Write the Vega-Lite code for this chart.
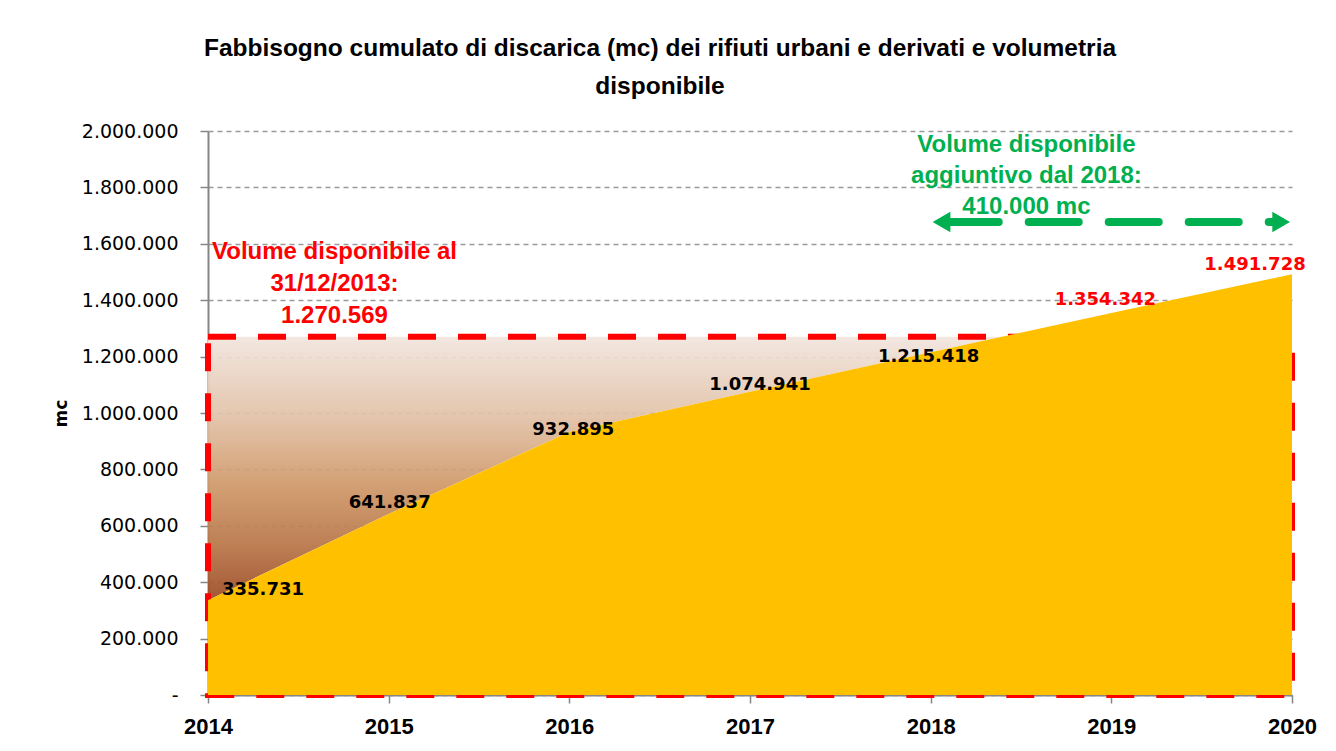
{
  "$schema": "https://vega.github.io/schema/vega-lite/v6.json",
  "width": 1084,
  "height": 564,
  "autosize": {"type": "none"},
  "padding": {"left": 208, "top": 131, "right": 44, "bottom": 56},
  "background": "white",
  "config": {
    "locale": {"number": {"decimal": ",", "thousands": ".", "grouping": [3], "currency": ["€", ""]}},
    "view": {"stroke": null}
  },
  "title": {
    "text": ["Fabbisogno cumulato di discarica (mc) dei rifiuti urbani e derivati e volumetria", "disponibile"],
    "font": "Liberation Sans",
    "fontSize": 24.5,
    "fontWeight": "bold",
    "color": "#000000",
    "lineHeight": 38,
    "anchor": "middle",
    "frame": "group",
    "dx": -90,
    "offset": 23
  },
  "datasets": {
    "series": [
      {"year": 2014, "v": 335731},
      {"year": 2015, "v": 641837},
      {"year": 2016, "v": 932895},
      {"year": 2017, "v": 1074941},
      {"year": 2018, "v": 1215418},
      {"year": 2019, "v": 1354342},
      {"year": 2020, "v": 1491728}
    ],
    "brown": [
      {"year": 2014, "v": 335731, "v2": 1270569},
      {"year": 2015, "v": 641837, "v2": 1270569},
      {"year": 2016, "v": 932895, "v2": 1270569},
      {"year": 2017, "v": 1074941, "v2": 1270569},
      {"year": 2018, "v": 1215418, "v2": 1270569},
      {"year": 2018.397, "v": 1270569, "v2": 1270569}
    ],
    "box": [{"year": 2014, "year2": 2020, "v": 0, "v2": 1270569}],
    "arrow": [{"year": 2018.1, "v": 1677000}, {"year": 2019.94, "v": 1677000}],
    "headL": [{"year": 2018.06, "v": 1677000}],
    "headR": [{"year": 2019.94, "v": 1677000}],
    "noteGreen": [{"year": 2018.53, "v": 1952000, "text": "Volume disponibile\naggiuntivo dal 2018:\n410.000  mc"}],
    "noteRed": [{"year": 2014.7, "v": 1571000, "text": "Volume disponibile al\n31/12/2013:\n1.270.569"}]
  },
  "encoding": {
    "x": {
      "field": "year",
      "type": "quantitative",
      "scale": {"domain": [2014, 2020], "nice": false, "zero": false},
      "axis": {
        "title": null,
        "values": [2014, 2015, 2016, 2017, 2018, 2019, 2020],
        "format": "d",
        "grid": false,
        "domainColor": "#868686",
        "domainWidth": 2,
        "tickColor": "#868686",
        "tickWidth": 1.5,
        "tickSize": 8,
        "labelFont": "Liberation Sans",
        "labelFontSize": 22,
        "labelFontWeight": "bold",
        "labelColor": "#000000",
        "labelPadding": 13,
        "labelFlush": false,
        "labelOverlap": false
      }
    },
    "y": {
      "field": "v",
      "type": "quantitative",
      "scale": {"domain": [0, 2000000], "nice": false},
      "axis": {
        "title": "mc",
        "titleFont": "DejaVu Sans",
        "titleFontSize": 17,
        "titleFontWeight": "bold",
        "titleColor": "#000000",
        "titlePadding": 11,
        "values": [0, 200000, 400000, 600000, 800000, 1000000, 1200000, 1400000, 1600000, 1800000, 2000000],
        "labelExpr": "datum.value == 0 ? '-' : format(datum.value, ',')",
        "labelFont": "DejaVu Sans",
        "labelFontSize": 19,
        "labelColor": "#000000",
        "labelPadding": 22,
        "domainColor": "#868686",
        "domainWidth": 2,
        "tickColor": "#868686",
        "tickWidth": 1.5,
        "tickSize": 8,
        "grid": true,
        "gridColor": "#9a9a9a",
        "gridWidth": 1.5,
        "gridDash": [5, 4]
      }
    }
  },
  "layer": [
    {
      "data": {"name": "brown"},
      "mark": {
        "type": "area",
        "fill": {
          "gradient": "linear", "x1": 0, "y1": 0, "x2": 0, "y2": 1,
          "stops": [
            {"offset": 0, "color": "#F1E5DE"},
            {"offset": 0.3, "color": "#E2C2A8"},
            {"offset": 0.55, "color": "#D09A6B"},
            {"offset": 0.8, "color": "#B87446"},
            {"offset": 1, "color": "#9B4A25"}
          ]
        },
        "fillOpacity": 0.93
      },
      "encoding": {"y2": {"field": "v2"}}
    },
    {
      "data": {"name": "box"},
      "mark": {"type": "rect", "fill": "white", "fillOpacity": 0, "stroke": "#FF0000", "strokeWidth": 6, "strokeDash": [28, 22]},
      "encoding": {"x2": {"field": "year2"}, "y2": {"field": "v2"}}
    },
    {
      "data": {"name": "series"},
      "mark": {"type": "area", "fill": "#FFC000", "interpolate": "linear"}
    },
    {
      "data": {"name": "series"},
      "transform": [{"filter": "datum.year == 2014"}],
      "mark": {"type": "text", "font": "DejaVu Sans", "fontSize": 18, "fontWeight": "bold", "color": "#000000", "align": "left", "baseline": "middle", "dx": 14, "dy": -10},
      "encoding": {"text": {"field": "v", "format": ","}}
    },
    {
      "data": {"name": "series"},
      "transform": [{"filter": "datum.year == 2015"}],
      "mark": {"type": "text", "font": "DejaVu Sans", "fontSize": 18, "fontWeight": "bold", "color": "#000000", "align": "center", "baseline": "middle", "dx": 1, "dy": -11},
      "encoding": {"text": {"field": "v", "format": ","}}
    },
    {
      "data": {"name": "series"},
      "transform": [{"filter": "datum.year == 2016"}],
      "mark": {"type": "text", "font": "DejaVu Sans", "fontSize": 18, "fontWeight": "bold", "color": "#000000", "align": "center", "baseline": "middle", "dx": 4, "dy": -2},
      "encoding": {"text": {"field": "v", "format": ","}}
    },
    {
      "data": {"name": "series"},
      "transform": [{"filter": "datum.year == 2017"}],
      "mark": {"type": "text", "font": "DejaVu Sans", "fontSize": 18, "fontWeight": "bold", "color": "#000000", "align": "center", "baseline": "middle", "dx": 10, "dy": -7},
      "encoding": {"text": {"field": "v", "format": ","}}
    },
    {
      "data": {"name": "series"},
      "transform": [{"filter": "datum.year == 2018"}],
      "mark": {"type": "text", "font": "DejaVu Sans", "fontSize": 18, "fontWeight": "bold", "color": "#000000", "align": "center", "baseline": "middle", "dx": -2, "dy": 5},
      "encoding": {"text": {"field": "v", "format": ","}}
    },
    {
      "data": {"name": "series"},
      "transform": [{"filter": "datum.year == 2019"}],
      "mark": {"type": "text", "font": "DejaVu Sans", "fontSize": 18, "fontWeight": "bold", "color": "#FF0000", "align": "center", "baseline": "middle", "dx": -6, "dy": -13},
      "encoding": {"text": {"field": "v", "format": ","}}
    },
    {
      "data": {"name": "series"},
      "transform": [{"filter": "datum.year == 2020"}],
      "mark": {"type": "text", "font": "DejaVu Sans", "fontSize": 18, "fontWeight": "bold", "color": "#FF0000", "align": "center", "baseline": "middle", "dx": -37, "dy": -9},
      "encoding": {"text": {"field": "v", "format": ","}}
    },
    {
      "data": {"name": "noteRed"},
      "mark": {"type": "text", "font": "Liberation Sans", "fontSize": 24, "fontWeight": "bold", "color": "#FF0000", "align": "center", "baseline": "middle", "lineBreak": "\n", "lineHeight": 32},
      "encoding": {"text": {"field": "text"}}
    },
    {
      "data": {"name": "noteGreen"},
      "mark": {"type": "text", "font": "Liberation Sans", "fontSize": 24, "fontWeight": "bold", "color": "#00B050", "align": "center", "baseline": "middle", "lineBreak": "\n", "lineHeight": 31},
      "encoding": {"text": {"field": "text"}}
    },
    {
      "data": {"name": "arrow"},
      "mark": {"type": "line", "color": "#00B050", "strokeWidth": 8, "strokeDash": [50, 30], "strokeCap": "round"},
      "encoding": {}
    },
    {
      "data": {"name": "headL"},
      "mark": {"type": "point", "shape": "triangle-left", "filled": true, "size": 420, "color": "#00B050", "opacity": 1, "strokeWidth": 0}
    },
    {
      "data": {"name": "headR"},
      "mark": {"type": "point", "shape": "triangle-right", "filled": true, "size": 420, "color": "#00B050", "opacity": 1, "strokeWidth": 0}
    }
  ]
}
